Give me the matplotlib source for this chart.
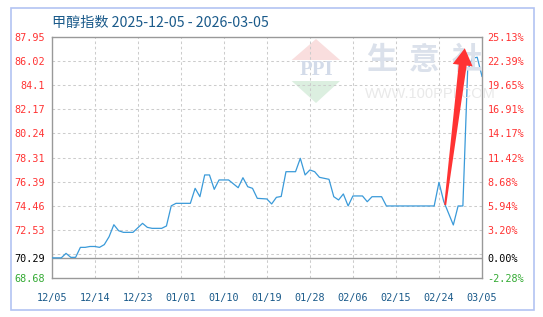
import numpy as np
import matplotlib
matplotlib.use("Agg")
import matplotlib.pyplot as plt
from matplotlib.patches import Polygon, Rectangle
from matplotlib.transforms import IdentityTransform

# ── data ──
title = "甲醇指数 2025-12-05 - 2026-03-05"
day = [0, 2, 3, 4, 5, 6, 7, 8, 9, 10, 11, 12, 13, 14, 15, 17, 19, 20, 21, 23,
       24, 25, 26, 29, 30, 31, 32, 33, 34, 35, 37, 39, 40, 41, 42, 43, 45, 46,
       47, 48, 49, 51, 52, 53, 54, 55, 56, 58, 59, 60, 61, 62, 63, 65, 66, 67,
       69, 70, 80, 81, 82, 84, 85, 86, 87, 88, 89, 90]
price = [70.29, 70.29, 70.65, 70.33, 70.33, 71.13, 71.13, 71.20, 71.20, 71.13,
         71.35, 71.98, 72.94, 72.46, 72.33, 72.33, 73.05, 72.73, 72.65, 72.65,
         72.84, 74.45, 74.65, 74.65, 75.85, 75.18, 76.92, 76.92, 75.77, 76.52,
         76.52, 75.90, 76.70, 75.98, 75.85, 75.05, 75.00, 74.60, 75.13, 75.20,
         77.18, 77.18, 78.25, 76.92, 77.32, 77.18, 76.73, 76.57, 75.18, 74.92,
         75.40, 74.44, 75.24, 75.24, 74.78, 75.18, 75.18, 74.44, 74.44, 76.33,
         74.80, 72.92, 74.44, 74.44, 85.30, 86.25, 86.33, 84.80]

base = 70.29
y_min, y_max = 68.68, 87.95
left_ticks = [87.95, 86.02, 84.10, 82.17, 80.24, 78.31, 76.39, 74.46, 72.53, 70.29, 68.68]
left_labels = ["87.95", "86.02", "84.1", "82.17", "80.24", "78.31", "76.39",
               "74.46", "72.53", "70.29", "68.68"]
right_labels = ["25.13%", "22.39%", "19.65%", "16.91%", "14.17%", "11.42%",
                "8.68%", "5.94%", "3.20%", "0.00%", "-2.28%"]
grid_levels = [86.02, 84.10, 82.17, 80.24, 78.31, 76.39, 74.46, 72.53, 70.61]
x_ticks = [0, 9, 18, 27, 36, 45, 54, 63, 72, 81, 90]
x_labels = ["12/05", "12/14", "12/23", "01/01", "01/10", "01/19", "01/28",
            "02/06", "02/15", "02/24", "03/05"]
arrow_from = (82.3, 74.52)
arrow_to = (86.4, 87.05)

RED = "#ff3333"
GREEN = "#33aa33"
BLUE_TXT = "#1a5a8a"
LINE = "#3a9ad9"
GRID = "#cccccc"
FRAME = "#999999"

W, H = 543, 317
fig = plt.figure(figsize=(W / 100, H / 100), dpi=100)
fig.patch.set_facecolor("white")


def px(x0, y0, x1, y1):
    return [x0 / W, 1 - y1 / H, (x1 - x0) / W, (y1 - y0) / H]


ax = fig.add_axes(px(51.7, 37, 482, 278))
ax.set_xlim(0, 90)
ax.set_ylim(y_min, y_max)
ax.set_facecolor("none")

# outer light-blue frame
fig.add_artist(Rectangle((10.5 / W, 1 - 309.5 / H), (534 - 10.5) / W, (309.5 - 7.5) / H,
                         transform=fig.transFigure, fill=False, ec="#b3c3f2", lw=1.2))

# ── watermark ──
fig.add_artist(Polygon([(291.7 / W, 1 - 60 / H), (340 / W, 1 - 60 / H), (316 / W, 1 - 39 / H)],
                       transform=fig.transFigure, fc="#f9dede", ec="none", zorder=0))
fig.add_artist(Polygon([(291.7 / W, 1 - 81 / H), (340 / W, 1 - 81 / H), (316 / W, 1 - 103 / H)],
                       transform=fig.transFigure, fc="#dcefe0", ec="none", zorder=0))
fig.text(316 / W, 1 - 70.5 / H, "PPI", fontsize=15, fontweight="bold", family="Liberation Serif",
         color="#d3dbe9", ha="center", va="center", zorder=0)
for cx, ch in zip([381, 424, 467], "生意社"):
    fig.text(cx / W, 1 - 60 / H, ch, fontsize=22, fontweight="bold", family="Noto Sans CJK SC",
             color="#dbe1eb", ha="center", va="center", zorder=0)
fig.text(365 / W, 1 - 94 / H, "WWW.100PPI.COM", fontsize=10.5, family="Liberation Sans",
         color="#e9e9e9", ha="left", va="center", zorder=0)

# ── grid ──
for g in grid_levels:
    ax.axhline(g, color=GRID, lw=0.75, ls=(0, (2.5, 2.5)), zorder=1)
for xt in x_ticks[1:-1]:
    ax.axvline(xt, color=GRID, lw=0.75, ls=(0, (2.5, 2.5)), zorder=1)
ax.axhline(base, color=FRAME, lw=1.0, zorder=2)

ax.plot(day, price, color=LINE, lw=0.9, zorder=3)

for s in ax.spines.values():
    s.set_color(FRAME)
    s.set_linewidth(1.0)

mono = "DejaVu Sans Mono"
ax.set_yticks(left_ticks)
ax.set_yticklabels(left_labels, family=mono, fontsize=7.3)
ax.tick_params(axis="y", length=0, pad=5)
for lab, v in zip(ax.get_yticklabels(), left_ticks):
    lab.set_color("black" if v == base else GREEN if v == y_min else RED)

ax.set_xticks(x_ticks)
ax.set_xticklabels(x_labels, family=mono, fontsize=7.3, color=BLUE_TXT)
ax.tick_params(axis="x", length=0, pad=10.5)

ax2 = ax.twinx()
ax2.set_ylim(y_min, y_max)
ax2.set_yticks(left_ticks)
ax2.set_yticklabels(right_labels, family=mono, fontsize=7.3)
ax2.tick_params(axis="y", length=0, pad=4)
for lab, v in zip(ax2.get_yticklabels(), left_ticks):
    lab.set_color("black" if v == base else GREEN if v == y_min else RED)
for s in ax2.spines.values():
    s.set_visible(False)

fig.text(51.7 / W, 1 - 22.5 / H, title, fontsize=10.2, color=BLUE_TXT,
         family=["Noto Sans CJK SC", "DejaVu Sans"], ha="left", va="center")

# ── red arrow (built in pixel space from the data anchors) ──
t = ax.transData.transform(arrow_from)
h = ax.transData.transform(arrow_to)
u = (h - t) / np.hypot(*(h - t))
n = np.array([-u[1], u[0]])
head_len, head_w, shaft_t, shaft_h = 17, 10, 1.0, 4.0
hb = h - u * head_len
pts = [t + n * shaft_t, hb + n * shaft_h, hb + n * head_w, h,
       hb - n * head_w, hb - n * shaft_h, t - n * shaft_t]
fig.add_artist(Polygon(pts, closed=True, transform=IdentityTransform(),
                       fc=RED, ec="none", zorder=10))

fig.savefig("out.png", dpi=100)
